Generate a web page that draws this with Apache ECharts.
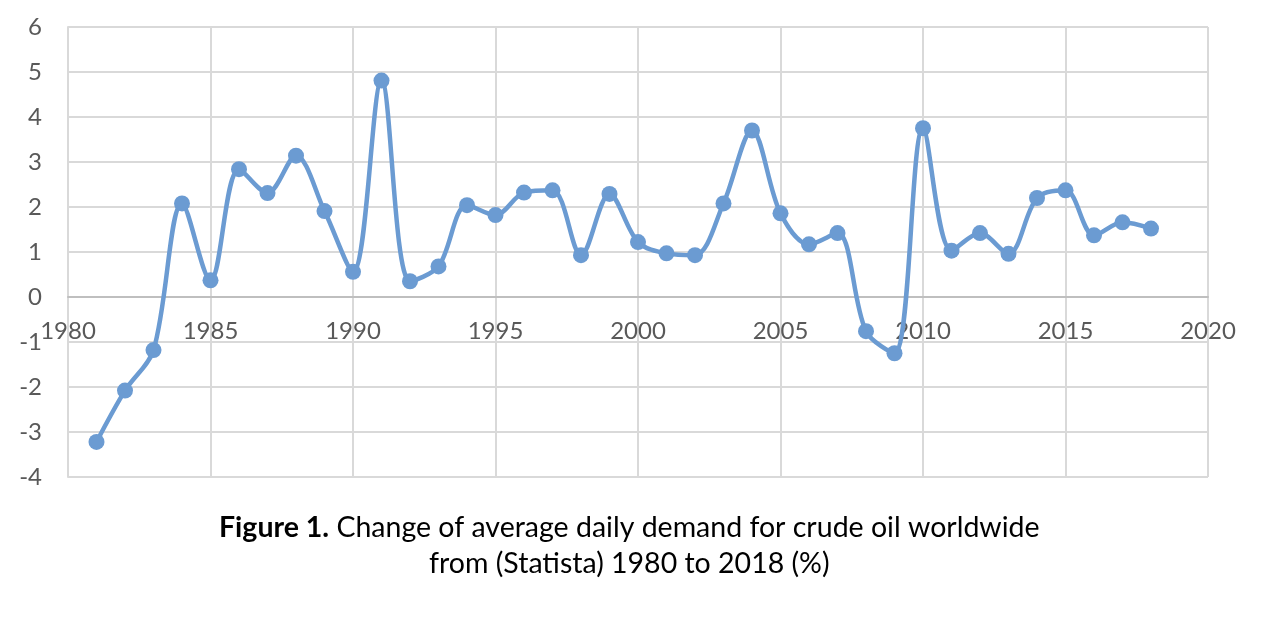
<!DOCTYPE html>
<html>
<head>
<meta charset="utf-8">
<script src="https://cdn.jsdelivr.net/npm/echarts@6/dist/echarts.min.js"></script>
<style>html,body{margin:0;padding:0;background:#fff;}#c{width:1276px;height:622px;}</style>
</head>
<body>
<div id="c"></div>
<script>
const years = [1981,1982,1983,1984,1985,1986,1987,1988,1989,1990,1991,1992,1993,1994,1995,1996,1997,1998,1999,2000,2001,2002,2003,2004,2005,2006,2007,2008,2009,2010,2011,2012,2013,2014,2015,2016,2017,2018];
const demandChange = [-3.22,-2.08,-1.18,2.08,0.37,2.84,2.31,3.14,1.91,0.56,4.81,0.35,0.68,2.04,1.82,2.32,2.37,0.93,2.29,1.22,0.97,0.93,2.08,3.70,1.86,1.17,1.42,-0.76,-1.25,3.75,1.03,1.42,0.96,2.20,2.37,1.37,1.66,1.52];
const captionBold = 'Figure 1.';
const captionLine1 = ' Change of average daily demand for crude oil worldwide';
const captionLine2 = 'from (Statista) 1980 to 2018 (%)';

const chart = echarts.init(document.getElementById('c'));
const textColor = '#595959';
const font = 'Lato';
chart.setOption({
  backgroundColor: '#fff',
  animation: false,
  title: {
    text: '{b|' + captionBold + '}{n|' + captionLine1 + '}\n{n|' + captionLine2 + '}',
    left: 214,
    top: 505,
    textStyle: {
      align: 'center',
      rich: {
        b: {fontFamily: font, fontWeight: 'bold', fontSize: 28.5, color: '#000', lineHeight: 36, align: 'center'},
        n: {fontFamily: font, fontWeight: 'normal', fontSize: 28.5, color: '#000', lineHeight: 36, align: 'center'}
      }
    }
  },
  grid: {left: 68, right: 68, top: 27, bottom: 145, containLabel: false},
  xAxis: [{
    type: 'value',
    min: 1980, max: 2020, interval: 5,
    axisLine: {show: false},
    axisTick: {show: false},
    axisLabel: {show: false},
    splitLine: {show: true, lineStyle: {color: '#d9d9d9', width: 2}}
  }, {
    type: 'value',
    position: 'bottom',
    offset: -180,
    min: 1980, max: 2020, interval: 5,
    axisLine: {show: true, onZero: false, lineStyle: {color: '#bfbfbf', width: 2}},
    axisTick: {show: false},
    axisLabel: {color: textColor, fontFamily: font, fontSize: 24, margin: 22, formatter: v => String(v)},
    splitLine: {show: false}
  }],
  yAxis: {
    type: 'value',
    min: -4, max: 6, interval: 1,
    axisLine: {show: true, lineStyle: {color: '#d9d9d9', width: 2}},
    axisTick: {show: false},
    axisLabel: {color: textColor, fontFamily: font, fontSize: 24, margin: 26},
    splitLine: {show: true, lineStyle: {color: '#d9d9d9', width: 2}}
  },
  series: [{
    type: 'line',
    xAxisIndex: 0,
    data: years.map((y, i) => [y, demandChange[i]]),
    smooth: 0.33,
    symbol: 'circle',
    symbolSize: 16,
    lineStyle: {color: '#6b9bd2', width: 4.5},
    itemStyle: {color: '#6b9bd2'},
    z: 5
  }]
});
</script>
</body>
</html>
